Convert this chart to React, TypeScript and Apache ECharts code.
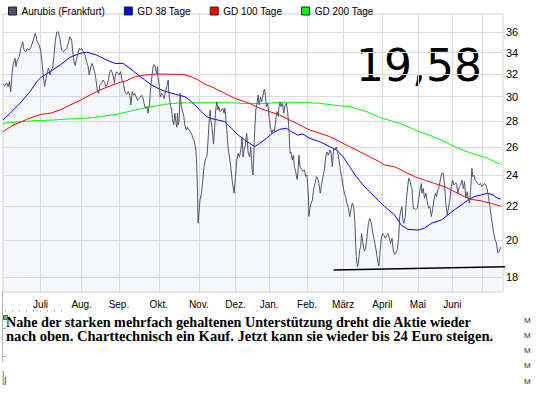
import React, { useEffect, useRef } from "react";
import * as echarts from "echarts";

const legendNames = ["Aurubis (Frankfurt)", "GD 38 Tage", "GD 100 Tage", "GD 200 Tage"];
const monthNames = ["Juli", "Aug.", "Sep.", "Okt.", "Nov.", "Dez.", "Jan.", "Feb.", "März", "April", "Mai", "Juni"];
// x unit: trading days since the first point
const monthDays = [21.5, 45, 66.3, 89.1, 112, 133, 152.2, 173.9, 194.5, 217, 237.3, 257];
const extraGridDays = [274.1];
const yTicks = [18, 20, 22, 24, 26, 28, 30, 32, 34, 36];

const pricePoints = [
  [0,31.08],[1.1,30.94],[2.1,31.2],[3.0,30.88],[3.6,31.3],[4.4,30.43],[5.1,31.9],[5.9,32.97],[6.9,33.45],[7.4,32.67],[8.2,33.3],[9.3,33.6],[10.1,34.4],[11.3,35.05],[12.0,34.24],[13.1,34.08],[13.9,34.4],[15.0,34.24],[15.8,34.4],[16.4,34.72],[17.3,35.22],[18.5,35.9],[19.6,35.05],[20.7,34.72],[21.5,34.24],[22.3,33.13],[23.0,31.9],[23.8,30.88],[24.6,31.58],[25.3,32.2],[26.1,32.54],[26.9,31.9],[27.6,32.37],[28.4,32.54],[29.1,33.6],[29.9,35.05],[30.7,36.0],[31.6,36.06],[32.6,35.4],[33.5,34.24],[34.5,34.08],[35.4,34.24],[36.4,34.4],[37.3,34.9],[38.3,35.55],[39.3,35.22],[39.8,34.24],[40.6,33.13],[41.3,32.77],[42.1,33.45],[42.9,33.92],[43.6,34.4],[44.4,34.24],[45.1,34.4],[45.9,34.08],[46.9,33.77],[47.8,33.13],[48.6,32.77],[49.3,31.9],[50.1,32.54],[50.9,32.97],[51.6,32.67],[52.4,32.2],[53.1,31.58],[53.9,30.58],[54.7,30.28],[55.4,31.03],[56.4,31.2],[57.3,31.45],[58.3,31.2],[58.9,30.88],[59.6,31.03],[60.4,31.58],[61.1,32.2],[61.9,32.37],[62.9,31.9],[63.8,31.2],[64.2,31.9],[65.0,32.2],[65.9,32.03],[66.5,31.9],[67.3,32.2],[68.0,31.45],[68.7,31.3],[69.7,30.43],[70.7,30.2],[71.6,30.43],[72.6,30.1],[73.1,29.31],[73.9,30.43],[74.7,30.12],[75.4,30.28],[76.2,29.97],[77.0,29.68],[77.7,29.83],[78.5,29.97],[79.3,30.12],[80.2,29.83],[80.7,29.44],[81.5,29.03],[82.3,29.17],[83.0,28.63],[83.8,29.44],[84.6,31.03],[85.3,31.9],[85.9,32.77],[86.5,32.86],[87.3,32.54],[87.8,32.03],[88.4,32.67],[88.7,31.63],[89.5,30.88],[89.9,29.97],[90.7,30.28],[91.4,30.12],[92.2,29.83],[92.7,30.28],[93.7,30.88],[94.5,31.45],[94.9,30.28],[95.6,29.44],[96.4,28.89],[97.0,28.09],[97.7,27.7],[98.3,28.63],[98.9,27.96],[99.4,27.51],[99.8,28.63],[100.2,27.7],[100.7,27.96],[101.3,30.28],[101.9,29.31],[102.5,28.89],[103.3,28.49],[104.0,27.7],[104.7,27.31],[105.5,27.51],[106.3,27.31],[107.0,27.18],[107.8,27.05],[108.6,26.65],[109.3,26.52],[110.1,26.02],[110.7,25.17],[111.3,22.83],[111.6,20.96],[112.2,21.78],[112.7,22.39],[113.5,22.82],[114.3,23.69],[115.0,24.6],[115.8,25.17],[116.6,25.29],[117.3,26.52],[117.7,27.51],[118.1,28.37],[118.5,28.89],[118.9,28.09],[119.6,27.51],[120.4,26.23],[120.7,26.77],[121.1,27.51],[121.5,28.63],[121.9,29.17],[122.3,29.57],[122.9,28.89],[123.4,29.17],[124.2,28.76],[125.0,28.89],[125.7,29.03],[126.5,28.63],[126.9,29.03],[127.4,28.37],[128.0,27.31],[128.7,26.02],[129.5,25.29],[130.3,24.6],[131.0,23.73],[131.8,23.1],[132.2,22.83],[133.0,23.94],[133.7,25.07],[134.5,25.55],[135.3,25.29],[136.0,25.79],[136.4,26.23],[136.7,26.77],[137.3,25.29],[137.9,25.79],[138.7,26.23],[139.4,27.05],[140.2,25.65],[141.1,25.29],[141.7,26.02],[142.5,24.38],[143.0,24.03],[143.6,26.02],[144.0,27.31],[144.6,28.89],[145.3,29.44],[145.9,30.12],[146.5,29.31],[147.3,29.97],[148.0,29.57],[148.7,30.12],[149.5,30.66],[150.1,30.12],[150.7,29.17],[151.4,29.44],[152.2,28.37],[153.0,27.51],[153.7,27.05],[154.5,27.31],[155.3,27.18],[156.0,28.09],[156.7,28.76],[157.5,28.37],[157.9,29.17],[158.5,29.57],[159.0,29.17],[159.8,29.44],[160.6,28.63],[161.3,29.31],[162.1,29.44],[162.9,28.63],[163.6,27.31],[164.2,25.55],[164.7,25.65],[165.5,25.07],[166.1,25.42],[166.7,24.6],[167.4,24.28],[168.2,23.73],[168.7,24.17],[169.3,25.42],[169.9,24.6],[170.5,24.49],[171.0,24.38],[171.6,24.28],[172.4,24.38],[173.1,23.94],[173.9,24.03],[174.7,22.65],[175.0,21.36],[175.4,21.78],[176.2,22.18],[177.0,22.39],[177.7,23.13],[178.5,23.46],[179.3,23.92],[180.0,23.83],[180.7,23.46],[181.5,22.82],[182.3,23.46],[183.0,23.92],[183.8,24.38],[184.6,25.29],[185.3,25.65],[186.1,25.42],[186.9,25.79],[187.6,25.65],[188.4,24.6],[189.1,25.9],[189.9,25.79],[190.7,26.02],[191.4,25.65],[192.2,25.07],[193.0,24.38],[193.7,23.92],[194.5,23.29],[195.3,22.82],[196.0,22.6],[196.7,22.18],[197.5,21.94],[198.3,21.36],[199.0,21.78],[199.8,22.18],[200.6,21.97],[201.3,21.05],[201.7,19.8],[202.1,19.07],[202.7,18.53],[203.3,18.71],[204.0,19.43],[204.6,19.62],[205.1,20.37],[205.9,19.8],[206.7,19.37],[207.4,19.52],[208.2,20.17],[209.0,20.96],[209.7,21.25],[210.5,21.05],[211.3,20.56],[212.0,20.17],[212.7,19.8],[213.5,19.37],[214.3,18.89],[215.0,18.57],[215.6,19.27],[216.4,20.09],[217.1,20.36],[217.9,20.26],[218.7,20.09],[219.4,20.26],[220.2,20.36],[221.0,20.09],[221.7,19.8],[222.5,20.09],[223.3,19.37],[224.0,19.19],[224.7,19.27],[225.5,19.45],[226.3,20.09],[226.9,21.33],[227.4,21.66],[228.2,21.97],[228.7,21.15],[229.3,20.96],[230.1,21.36],[230.7,22.39],[231.3,23.03],[232.0,23.81],[232.7,23.69],[233.5,23.25],[233.9,23.13],[234.7,21.87],[235.4,21.87],[236.2,21.78],[237.0,21.87],[237.7,22.39],[238.5,23.03],[239.3,23.46],[239.6,22.82],[240.4,23.13],[241.1,22.5],[241.9,22.82],[242.7,22.29],[243.4,21.87],[244.2,21.97],[245.0,21.36],[245.7,21.78],[246.5,22.39],[247.3,22.82],[248.0,22.6],[248.7,23.03],[249.5,23.25],[250.3,23.81],[251.0,24.15],[251.8,24.15],[252.6,23.36],[253.3,22.18],[254.1,21.46],[254.9,21.97],[255.6,22.39],[256.4,23.25],[257.1,23.69],[257.9,23.36],[258.7,23.46],[259.4,23.46],[260.2,22.82],[261.0,23.25],[261.7,23.36],[262.5,23.69],[263.3,23.13],[264.0,23.58],[264.7,22.5],[265.5,22.92],[266.3,22.39],[266.9,22.18],[267.6,23.25],[268.2,24.49],[268.7,23.92],[269.3,24.03],[270.1,23.69],[270.9,23.58],[271.6,23.46],[272.4,23.36],[273.1,23.46],[273.9,23.25],[274.7,23.36],[275.4,23.46],[276.2,23.36],[277.0,23.03],[277.7,22.6],[278.5,21.97],[279.3,21.36],[280.0,20.85],[280.7,20.37],[281.5,19.99],[282.3,19.8],[283.0,19.27],[284.0,19.37],[284.6,19.58]
];

const gd38Points = [
  [0,28.08],[4.0,28.62],[9.7,29.44],[15.4,30.42],[19.3,31.3],[22.1,31.74],[26.9,32.2],[32.6,32.81],[38.3,33.54],[44.0,33.92],[47.8,34.03],[53.5,33.76],[59.3,33.28],[64.0,32.97],[68.7,32.97],[72.6,32.51],[77.3,31.9],[81.1,31.45],[85.0,31.01],[90.7,30.57],[96.4,30.29],[104.0,30.0],[107.8,29.58],[111.6,29.03],[115.4,28.48],[118.3,28.22],[123.0,28.08],[126.9,27.95],[130.7,27.43],[134.5,26.91],[138.3,26.53],[144.0,26.04],[146.9,26.29],[150.7,26.66],[154.5,27.09],[158.3,27.35],[162.1,27.43],[165.0,27.17],[168.7,26.91],[171.6,26.99],[175.4,26.66],[181.1,26.41],[186.9,26.04],[190.7,25.8],[194.5,25.31],[198.3,24.6],[202.1,23.92],[205.9,23.36],[209.7,22.92],[215.4,22.28],[218.3,21.97],[224.0,21.46],[227.8,20.85],[231.6,20.6],[237.3,20.56],[241.1,20.66],[245.0,20.96],[250.7,21.15],[254.5,21.46],[258.3,21.78],[262.1,22.07],[265.9,22.39],[269.7,22.6],[273.5,22.71],[277.3,22.82],[280.2,22.71],[283.0,22.49],[284.6,22.45]
];

const gd100Points = [
  [0,27.17],[5.9,27.69],[10.7,27.95],[13.5,28.13],[19.3,28.42],[22.1,28.54],[26.9,28.62],[32.6,28.89],[38.3,29.3],[44.0,29.68],[49.7,30.14],[55.4,30.57],[61.1,30.92],[66.9,31.24],[70.7,31.39],[75.4,31.74],[81.1,31.9],[88.7,31.99],[98.3,31.96],[103.0,31.96],[107.8,31.74],[111.6,31.45],[115.4,31.09],[121.1,30.72],[126.9,30.29],[132.6,29.86],[138.3,29.58],[141.1,29.44],[146.9,29.03],[152.6,28.75],[158.3,28.48],[164.0,28.08],[169.7,27.69],[175.4,27.3],[181.1,27.05],[186.9,26.79],[192.6,26.41],[198.3,26.04],[204.0,25.68],[209.7,25.31],[215.4,24.95],[218.3,24.72],[224.0,24.6],[229.7,24.26],[235.4,23.92],[241.1,23.69],[246.9,23.46],[252.6,23.25],[258.3,22.92],[264.0,22.6],[267.8,22.43],[273.5,22.33],[279.3,22.18],[284.6,22.0]
];

const gd200Points = [
  [0,27.82],[9.7,27.95],[18.3,28.03],[28.7,28.08],[36.4,28.16],[47.8,28.22],[55.4,28.35],[65.0,28.54],[74.5,28.85],[82.1,29.1],[93.5,29.37],[100.2,29.47],[115.4,29.49],[130.7,29.49],[138.3,29.42],[150.7,29.44],[160.2,29.53],[169.7,29.53],[181.1,29.44],[188.7,29.3],[198.3,29.16],[204.0,28.94],[209.7,28.67],[215.4,28.29],[226.9,27.82],[238.3,27.17],[249.7,26.6],[259.3,25.98],[266.9,25.6],[277.1,25.2],[284.6,24.75]
];

const supportPoints = [[189.1, 18.36], [287.8, 18.53]];

const lastPriceLabel = "19,58";
const commentLines = [
  "Nahe der starken mehrfach gehaltenen Unterstützung dreht die Aktie wieder",
  "nach oben. Charttechnisch ein Kauf. Jetzt kann sie wieder bis 24 Euro steigen.",
];

const SANS = '"Liberation Sans", Arial, sans-serif';

export default function App() {
  const ref = useRef<HTMLDivElement>(null);
  useEffect(() => {
    if (!ref.current) return;
    const chart = echarts.init(ref.current, undefined, { renderer: "svg" });
    const gridColor = "#dcdcdc";
    const mSide = [320, 335, 350, 365, 381];
    const dotXs = [5, 12, 19, 26, 33, 40, 47, 54, 61];
    chart.setOption({
      animation: false,
      backgroundColor: "#ffffff",
      textStyle: { fontFamily: SANS },
      legend: {
        left: 3,
        top: 1,
        icon: "rect",
        itemWidth: 8,
        itemHeight: 8,
        itemGap: 19,
        selectedMode: false,
        data: legendNames,
        itemStyle: { borderColor: "#222", borderWidth: 1 },
        textStyle: { fontSize: 10, color: "#000", fontFamily: SANS },
      },
      grid: {
        left: 3,
        right: 42,
        top: 14,
        bottom: 103,
        show: true,
        backgroundColor: "#ffffff",
        borderColor: "#d2d2d2",
        borderWidth: 1,
      },
      xAxis: {
        type: "value",
        min: 0,
        max: 286,
        axisLine: { show: false },
        axisTick: { show: false, customValues: [...monthDays, ...extraGridDays] },
        splitLine: { show: true, lineStyle: { color: gridColor, width: 1 } },
        axisLabel: {
          customValues: monthDays,
          margin: 7,
          fontSize: 10,
          color: "#000",
          fontFamily: SANS,
          formatter: (v: number) => {
            let best = 0;
            for (let i = 0; i < monthDays.length; i++) {
              if (Math.abs(monthDays[i] - v) < Math.abs(monthDays[best] - v)) best = i;
            }
            return monthNames[best];
          },
        },
      },
      yAxis: {
        type: "log",
        logBase: 10,
        min: 17.25,
        max: 37.92,
        position: "right",
        axisLine: { show: false },
        axisTick: { show: false, customValues: yTicks },
        splitLine: { show: true, lineStyle: { color: gridColor, width: 1 } },
        axisLabel: {
          customValues: yTicks,
          margin: 3,
          fontSize: 11,
          color: "#000",
          fontFamily: SANS,
          formatter: (v: number) => String(Math.round(v)),
        },
      },
      series: [
        {
          type: "line",
          name: "area",
          data: pricePoints,
          showSymbol: false,
          symbol: "none",
          silent: true,
          lineStyle: { width: 0, opacity: 0 },
          areaStyle: { origin: "start", color: "rgba(190,198,228,0.2)" },
          z: 1,
        },
        {
          type: "line",
          name: "GD 200 Tage",
          data: gd200Points,
          symbol: "none",
          color: "#00ff00",
          lineStyle: { width: 1, color: "#00ff00" },
          z: 2,
        },
        {
          type: "line",
          name: "GD 100 Tage",
          data: gd100Points,
          symbol: "none",
          color: "#ff0000",
          lineStyle: { width: 1, color: "#ff0000" },
          z: 2,
        },
        {
          type: "line",
          name: "GD 38 Tage",
          data: gd38Points,
          symbol: "none",
          color: "#0000ff",
          lineStyle: { width: 1, color: "#0000ff" },
          z: 2,
        },
        {
          type: "line",
          name: "Aurubis (Frankfurt)",
          data: pricePoints,
          symbol: "none",
          color: "#4b556f",
          lineStyle: { width: 1, color: "#4b556f" },
          z: 3,
        },
        {
          type: "line",
          name: "support",
          data: supportPoints,
          symbol: "none",
          clip: false,
          silent: true,
          lineStyle: { width: 1.5, color: "#000" },
          z: 4,
        },
      ],
      graphic: [
        {
          type: "text",
          x: 419,
          y: 65,
          silent: true,
          style: {
            text: lastPriceLabel,
            align: "center",
            verticalAlign: "middle",
            font: 'normal 44px "DejaVu Sans"',
            fill: "#000",
          },
        },
        {
          type: "text",
          x: 6,
          y: 314.5,
          silent: true,
          style: {
            text: `{a|${commentLines[0]}}\n{b|${commentLines[1]}}`,
            align: "left",
            verticalAlign: "top",
            fill: "#000",
            rich: {
              a: { fontFamily: "Liberation Serif", fontWeight: "bold", fontSize: 14.2, lineHeight: 14.6, fill: "#000" },
              b: { fontFamily: "Liberation Serif", fontWeight: "bold", fontSize: 14.6, lineHeight: 14.6, fill: "#000" },
            },
          },
        },
        ...dotXs.map((dx) => ({
          type: "rect",
          silent: true,
          shape: { x: dx, y: 310.5, width: 1, height: 1 },
          style: { fill: "#777" },
        })),
        {
          type: "rect",
          silent: true,
          shape: { x: 3.5, y: 315.5, width: 4, height: 4 },
          style: { fill: "#5cbf5c", stroke: "#2f7a2f", lineWidth: 1 },
        },
        {
          type: "line",
          silent: true,
          shape: { x1: 2.5, y1: 292, x2: 2.5, y2: 362 },
          style: { stroke: "#b0b0b0", lineWidth: 1 },
        },
        {
          type: "line",
          silent: true,
          shape: { x1: 2.5, y1: 328.5, x2: 6.5, y2: 328.5 },
          style: { stroke: "#b0b0b0", lineWidth: 1 },
        },
        {
          type: "line",
          silent: true,
          shape: { x1: 2.5, y1: 356.5, x2: 6.5, y2: 356.5 },
          style: { stroke: "#b0b0b0", lineWidth: 1 },
        },
        {
          type: "rect",
          silent: true,
          shape: { x: 2.5, y: 371, width: 1.5, height: 14 },
          style: { fill: "#6fcf6f" },
        },
        {
          type: "rect",
          silent: true,
          shape: { x: 4.7, y: 377, width: 1.5, height: 8 },
          style: { fill: "#e05a5a" },
        },
        ...mSide.map((yy) => ({
          type: "text",
          x: 524,
          y: yy,
          silent: true,
          style: { text: "M", font: "8px " + SANS, fill: "#333", verticalAlign: "middle" },
        })),
      ],
    });
    return () => chart.dispose();
  }, []);
  return <div ref={ref} style={{ position: "fixed", left: 0, top: 0, width: 545, height: 395 }} />;
}
